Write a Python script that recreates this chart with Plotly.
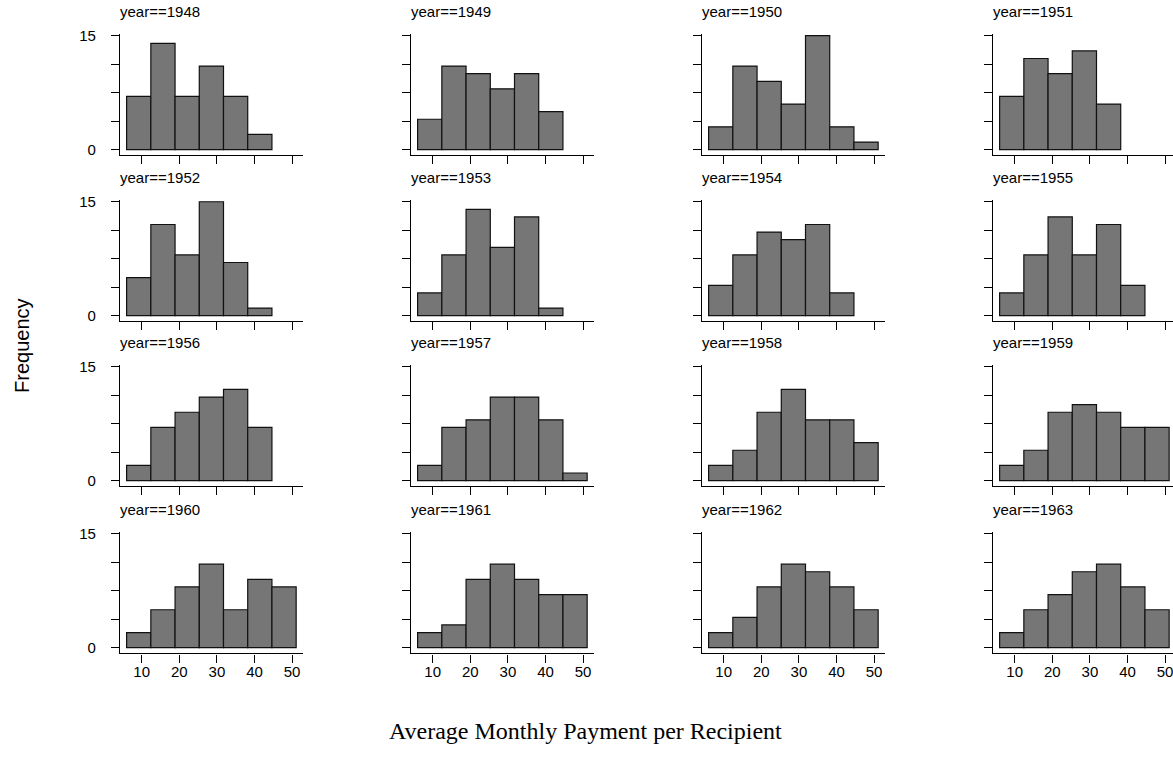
import plotly.graph_objects as go

years = [1948, 1949, 1950, 1951, 1952, 1953, 1954, 1955,
         1956, 1957, 1958, 1959, 1960, 1961, 1962, 1963]
bin_edges = [6.0, 12.44, 18.88, 25.32, 31.76, 38.2, 44.64, 51.08]
counts = {
    1948: [7, 14, 7, 11, 7, 2],
    1949: [4, 11, 10, 8, 10, 5],
    1950: [3, 11, 9, 6, 15, 3, 1],
    1951: [7, 12, 10, 13, 6],
    1952: [5, 12, 8, 15, 7, 1],
    1953: [3, 8, 14, 9, 13, 1],
    1954: [4, 8, 11, 10, 12, 3],
    1955: [3, 8, 13, 8, 12, 4],
    1956: [2, 7, 9, 11, 12, 7],
    1957: [2, 7, 8, 11, 11, 8, 1],
    1958: [2, 4, 9, 12, 8, 8, 5],
    1959: [2, 4, 9, 10, 9, 7, 7],
    1960: [2, 5, 8, 11, 5, 9, 8],
    1961: [2, 3, 9, 11, 9, 7, 7],
    1962: [2, 4, 8, 11, 10, 8, 5],
    1963: [2, 5, 7, 10, 11, 8, 5],
}
x_ticks = [10, 20, 30, 40, 50]
y_ticks = [0, 3.75, 7.5, 11.25, 15]
y_ticktext = ["0", "", "", "", "15"]

W, H = 1173, 767
col_left = [120, 411, 702, 993]
plot_w = 183
row_top = [27.5, 195.5, 362.4, 531.5]
plot_h = 122.6
xr = [4.24, 52.9]
yr = [-0.75, 15.2]

FONT = "Liberation Sans, Arial, sans-serif"
fig = go.Figure()
centers = [(bin_edges[i] + bin_edges[i + 1]) / 2 for i in range(len(bin_edges) - 1)]
widths = [bin_edges[i + 1] - bin_edges[i] for i in range(len(bin_edges) - 1)]

layout_axes = {}
annotations = []
for i, yr_ in enumerate(years):
    r, c = divmod(i, 4)
    k = i + 1
    vals = counts[yr_]
    n = len(vals)
    fig.add_trace(go.Bar(
        x=centers[:n], y=vals, width=widths[:n],
        marker=dict(color="#767676", line=dict(color="#111111", width=1.2)),
        xaxis=f"x{k}", yaxis=f"y{k}", showlegend=False,
    ))
    l = col_left[c]
    rgt = l + plot_w
    xrange = list(xr)
    if rgt > W:
        xrange[1] = xr[0] + (W - l) / plot_w * (xr[1] - xr[0])
        rgt = W
    top = row_top[r]
    bot = top + plot_h
    xa = dict(domain=[l / W, rgt / W], range=xrange, anchor=f"y{k}",
              showline=True, linecolor="black", linewidth=1.2,
              ticks="outside", ticklen=8, tickcolor="black", tickwidth=1.2,
              tickvals=x_ticks, showticklabels=(r == 3),
              showgrid=False, zeroline=False, ticklabelstandoff=-4,
              ticklabeloverflow="allow",
              tickfont=dict(family=FONT, size=15, color="black"))
    ya = dict(domain=[1 - bot / H, 1 - top / H], range=yr, anchor=f"x{k}",
              showline=True, linecolor="black", linewidth=1.2,
              ticks="outside", ticklen=8, tickcolor="black", tickwidth=1.2,
              tickvals=y_ticks, ticktext=y_ticktext, showticklabels=(c == 0),
              showgrid=False, zeroline=False, ticklabelstandoff=12,
              tickfont=dict(family=FONT, size=15, color="black"))
    layout_axes["xaxis" if k == 1 else f"xaxis{k}"] = xa
    layout_axes["yaxis" if k == 1 else f"yaxis{k}"] = ya
    annotations.append(dict(
        text=f"year=={yr_}", x=(l - 2) / W, y=1 - (top - 12.5) / H,
        xref="paper", yref="paper", xanchor="left", yanchor="bottom",
        showarrow=False, font=dict(family=FONT, size=15, color="black")))

annotations.append(dict(
    text="Frequency", x=22 / W, y=1 - 343 / H, xref="paper", yref="paper",
    xanchor="center", yanchor="middle", textangle=-90, showarrow=False,
    font=dict(family=FONT, size=20, color="black")))
annotations.append(dict(
    text="Average Monthly Payment per Recipient", x=585 / W, y=1 - 733 / H,
    xref="paper", yref="paper", xanchor="center", yanchor="middle",
    showarrow=False,
    font=dict(family="Liberation Serif, Times New Roman, serif", size=24, color="black")))

fig.update_layout(
    width=W, height=H, margin=dict(l=0, r=0, t=0, b=0),
    paper_bgcolor="white", plot_bgcolor="white",
    annotations=annotations, **layout_axes,
)
fig.write_html("out.html", config={"displayModeBar": False},
               post_script="document.body.style.margin='0';document.body.style.overflow='hidden';")
